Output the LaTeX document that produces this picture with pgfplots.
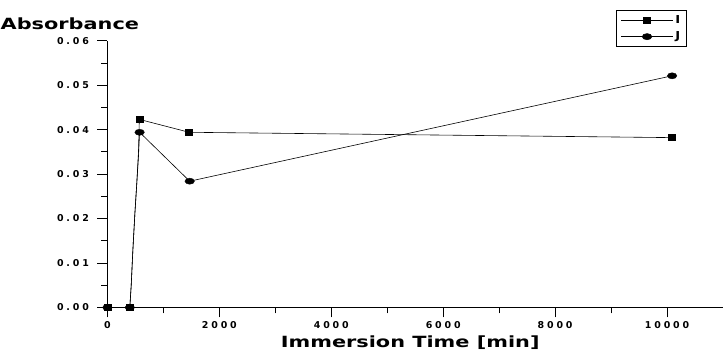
\documentclass[border=0pt]{standalone}
\usepackage{fontspec}
\usepackage{pgfplots}
\pgfplotsset{compat=1.18}
\setmainfont{DejaVu Sans}
\newfontfamily\bigfont[FakeStretch=1.35]{DejaVu Sans}
\newfontfamily\tickfont[LetterSpace=30]{DejaVu Sans}
\newfontfamily\legfont[FakeStretch=1.2]{DejaVu Sans}
\begin{document}
\begin{tikzpicture}[x=1bp,y=1bp]
\begin{axis}[
  at={(0,0)}, anchor=south west,
  scale only axis, width=616bp, height=267bp,
  xmin=0, xmax=11000, ymin=0, ymax=0.06,
  axis x line*=bottom, axis y line*=left,
  axis line style={-, line width=1pt},
  xtick={0,2000,4000,6000,8000,10000}, minor x tick num=1,
  ytick={0,0.01,0.02,0.03,0.04,0.05,0.06}, minor y tick num=1,
  tick align=outside, major tick length=10bp, minor tick length=6bp,
  tick style={black, line width=0.8pt},
  scaled x ticks=false, scaled y ticks=false,
  xticklabel style={/pgf/number format/1000 sep={}},
  yticklabel style={/pgf/number format/fixed, /pgf/number format/fixed zerofill, /pgf/number format/precision=2, xshift=-5bp},
  /pgf/number format/assume math mode=true,
  ticklabel style={font=\tickfont\bfseries\fontsize{9.5}{10}\selectfont},
  legend style={at={(rel axis cs:0.941,1.115)}, anchor=north east, draw=black, line width=1pt,
     font=\legfont\bfseries\fontsize{11}{11}\selectfont, inner xsep=4pt, inner ysep=3pt, row sep=3pt,
     legend cell align=left},
  legend image code/.code={\draw[mark repeat=2,mark phase=2,#1] plot coordinates {(0bp,0bp)(26bp,0bp)(52bp,0bp)};},
]
% line traces
\addplot[black, line width=0.6pt, forget plot] coordinates {
  (0,0) (400,0) (425,0.005) (455,0.013) (490,0.021) (525,0.028) (555,0.035) (570,0.0423) (1460,0.0394) (10080,0.0382)};
\addplot[black, line width=0.6pt, forget plot] coordinates {
  (0,0) (400,0) (425,0.005) (455,0.013) (490,0.021) (525,0.028) (555,0.034) (575,0.0394) (1470,0.0284) (10090,0.0521)};
% markers
\addplot[black, only marks, mark=square*, mark size=3.5bp, mark options={yscale=0.85}, forget plot] coordinates {
  (0,0) (400,0) (570,0.0423) (1460,0.0394) (10080,0.0382)};
\addplot[black, only marks, mark=*, mark size=3.4bp, mark options={xscale=1.4,yscale=0.9}, forget plot] coordinates {
  (0,0) (400,0) (575,0.0394) (1470,0.0284) (10090,0.0521)};
\addlegendimage{black, line width=0.6pt, mark=square*, mark size=3.5bp, mark options={yscale=0.85}}
\addlegendentry{I}
\addlegendimage{black, line width=0.6pt, mark=*, mark size=3.4bp, mark options={xscale=1.4,yscale=0.9}}
\addlegendentry{J}
\end{axis}
\node[anchor=base west, inner sep=0] at (-107,277.7) {\bigfont\bfseries\fontsize{15.5}{16}\selectfont Absorbance};
\node[anchor=base, inner sep=0] at (303,-40.5) {\bigfont\bfseries\fontsize{15.5}{16}\selectfont Immersion Time [min]};
\pgfresetboundingbox
\path[use as bounding box] (-107.5,-43.5) rectangle (616,307.7);
\end{tikzpicture}
\end{document}
